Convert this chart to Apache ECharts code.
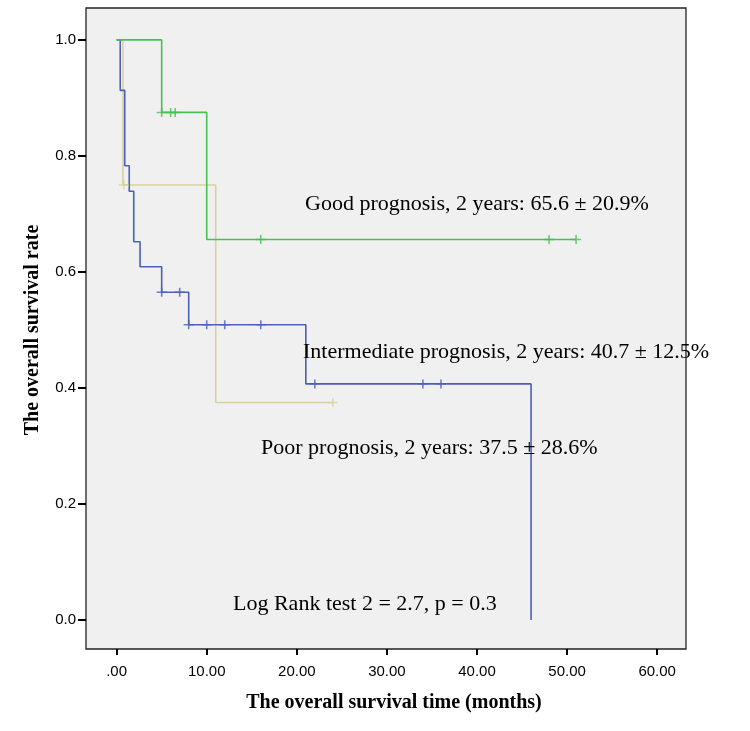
<!DOCTYPE html>
<html>
<head>
<meta charset="utf-8">
<script src="https://cdn.jsdelivr.net/npm/echarts@6/dist/echarts.min.js"></script>
<style>
  html, body { margin: 0; padding: 0; background: #fff; }
  #chart { width: 750px; height: 731px; }
</style>
</head>
<body>
<div id="chart"></div>
<script>
// step points (time in months, survival)
const goodTimes = [0, 5, 10, 51];
const goodSurv = [1, 0.875, 0.656, 0.656];
const interTimes = [0, 0.4, 0.9, 1.4, 1.9, 2.6, 5, 8, 21, 46];
const interSurv = [1, 0.913, 0.783, 0.739, 0.652, 0.609, 0.565, 0.509, 0.407, 0];
const poorTimes = [0, 0.7, 11, 24];
const poorSurv = [1, 0.75, 0.375, 0.375];

// censored cases
const goodCensT = [5, 6, 6.5, 16, 48, 51];
const goodCensS = [0.875, 0.875, 0.875, 0.656, 0.656, 0.656];
const interCensT = [5, 7, 8, 10, 12, 16, 22, 34, 36];
const interCensS = [0.565, 0.565, 0.509, 0.509, 0.509, 0.509, 0.407, 0.407, 0.407];
const poorCensT = [0.8, 24];
const poorCensS = [0.75, 0.375];

const xTicks = [0, 10, 20, 30, 40, 50, 60];
const yTicks = [0, 0.2, 0.4, 0.6, 0.8, 1.0];

const green = '#45c153';
const blue = '#4a5fbf';
const beige = '#d8d29e';

function pairs(a, b) {
  return a.map((v, i) => [v, b[i]]);
}

function stepLine(name, t, s, color) {
  return {
    name: name,
    type: 'line',
    step: 'end',
    symbol: 'none',
    data: pairs(t, s),
    lineStyle: { color: color, width: 1.6 },
    z: 3
  };
}

function censors(name, t, s, color) {
  return {
    name: name,
    type: 'scatter',
    symbol: 'path://M0,5L10,5M5,0L5,10',
    symbolSize: [10, 9],
    data: pairs(t, s),
    itemStyle: { color: 'rgba(0,0,0,0)', borderColor: color, borderWidth: 1.5 },
    z: 4
  };
}

const chart = echarts.init(document.getElementById('chart'));
const serif = 'Liberation Serif, Times New Roman, serif';
const sans = 'Liberation Sans, Arial, sans-serif';

chart.setOption({
  animation: false,
  backgroundColor: '#fff',
  grid: {
    left: 86, right: 64, top: 8, bottom: 82,
    show: true,
    backgroundColor: '#f0f0f0',
    borderColor: '#222',
    borderWidth: 1.3
  },
  xAxis: {
    type: 'value',
    min: -3.4,
    max: 63.2,
    axisLine: { show: false, onZero: false },
    splitLine: { show: false },
    axisTick: {
      show: true, length: 6, customValues: xTicks,
      lineStyle: { color: '#000', width: 2 }
    },
    axisLabel: {
      customValues: xTicks,
      margin: 15,
      color: '#000',
      fontSize: 15,
      fontFamily: sans,
      formatter: v => v === 0 ? '.00' : v.toFixed(2)
    }
  },
  yAxis: {
    type: 'value',
    min: -0.05,
    max: 1.055,
    axisLine: { show: false, onZero: false },
    splitLine: { show: false },
    axisTick: {
      show: true, length: 8, customValues: yTicks,
      lineStyle: { color: '#000', width: 2 }
    },
    axisLabel: {
      customValues: yTicks,
      margin: 10,
      color: '#000',
      fontSize: 15,
      fontFamily: sans,
      formatter: v => v.toFixed(1)
    }
  },
  series: [
    stepLine('Poor', poorTimes, poorSurv, beige),
    stepLine('Intermediate', interTimes, interSurv, blue),
    stepLine('Good', goodTimes, goodSurv, green),
    censors('Poor censored', poorCensT, poorCensS, beige),
    censors('Intermediate censored', interCensT, interCensS, blue),
    censors('Good censored', goodCensT, goodCensS, green)
  ],
  graphic: [
    {
      type: 'text', x: 305, y: 204.5, z: 10,
      style: { text: 'Good prognosis, 2 years: 65.6 ± 20.9%', font: '22px ' + serif, fill: '#000', verticalAlign: 'middle' }
    },
    {
      type: 'text', x: 303, y: 352.5, z: 10,
      style: { text: 'Intermediate prognosis, 2 years: 40.7 ± 12.5%', font: '22px ' + serif, fill: '#000', verticalAlign: 'middle' }
    },
    {
      type: 'text', x: 261, y: 448.5, z: 10,
      style: { text: 'Poor prognosis, 2 years: 37.5 ± 28.6%', font: '22px ' + serif, fill: '#000', verticalAlign: 'middle' }
    },
    {
      type: 'text', x: 233, y: 604.5, z: 10,
      style: { text: 'Log Rank test 2 = 2.7, p = 0.3', font: '22px ' + serif, fill: '#000', verticalAlign: 'middle' }
    },
    {
      type: 'text', x: 394, y: 703, z: 10,
      style: {
        text: 'The overall survival time (months)', font: 'bold 20px ' + serif, fill: '#000',
        align: 'center', verticalAlign: 'middle'
      }
    },
    {
      type: 'text', x: 33, y: 330, rotation: Math.PI / 2, z: 10,
      style: {
        text: 'The overall survival rate', font: 'bold 20px ' + serif, fill: '#000',
        align: 'center', verticalAlign: 'middle'
      }
    }
  ]
});
</script>
</body>
</html>
